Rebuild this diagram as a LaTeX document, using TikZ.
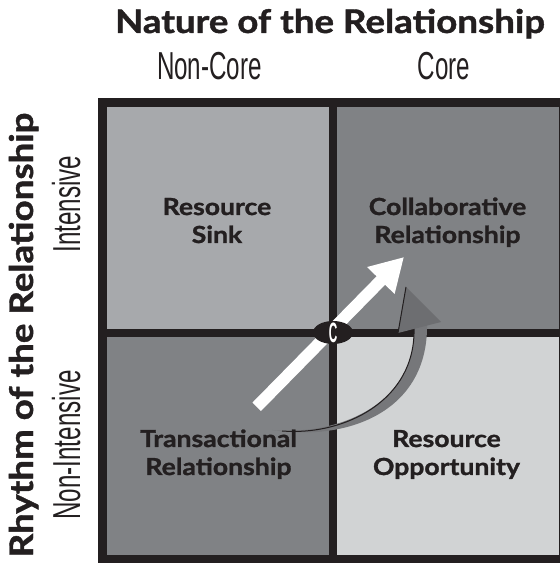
\documentclass[tikz,border=0pt]{standalone}
\usepackage{fontspec}
\setmainfont{Lato}
\newfontfamily\headfont[FakeStretch=1.13, BoldFeatures={FakeBold=1.3}]{Lato}
\newfontfamily\condfont[FakeStretch=0.62]{Liberation Sans}
\newfontfamily\cfont[FakeStretch=0.42]{Liberation Sans}
\usetikzlibrary{arrows.meta,shapes.geometric}
\definecolor{linecol}{HTML}{231F20}
\definecolor{sinkgray}{HTML}{A7A9AC}
\definecolor{collabgray}{HTML}{808285}
\definecolor{transgray}{HTML}{808285}
\definecolor{oppgray}{HTML}{D1D3D4}
\definecolor{bandgray}{HTML}{76777A}
\definecolor{headgray}{HTML}{6D6E71}

\begin{document}
\begin{tikzpicture}[x=1pt,y=1pt,
    gridline/.style={draw=linecol, line width=8.5pt},
    celltext/.style={font=\headfont\fontsize{23.5}{28}\selectfont\bfseries, align=center, text=linecol, inner sep=0pt, anchor=base},
    axistitle/.style={font=\headfont\fontsize{32.5}{36}\selectfont\bfseries, text=linecol, inner sep=0pt, anchor=base},
    axislabel/.style={font=\condfont\fontsize{39}{42}\selectfont, text=linecol, inner sep=0pt, anchor=base}]
    \useasboundingbox (0,0) rectangle (559,564);

    % Quadrants
    \foreach \xa/\ya/\h/\col in {102.5/231/230.5/sinkgray, 333/231/230.5/collabgray, 102.5/5/226/transgray, 333/5/226/oppgray}
        \fill[\col] (\xa,\ya) rectangle ++(230.5,\h);

    % Grid
    \draw[gridline] (102.5,5) rectangle (563.5,461.5);
    \draw[gridline] (333,5) -- (333,461.5);
    \draw[gridline] (102.5,231) -- (563.5,231);

    % Straight arrow
    \coordinate (arrtail) at (256.7,157.2);
    \coordinate (arrtip) at (404,307);
    \draw[white, line width=12pt, -{Triangle[length=33pt,width=36pt]}] (arrtail) -- (arrtip);

    % Curved arrow
    \fill[bandgray] (272,134) .. controls (350,122) and (428,154) .. (427,239)
        -- (414,236) .. controls (416,164) and (345,128) .. (272,134) -- cycle;
    \draw[linecol, line width=1pt] (414,236) .. controls (416,164) and (345,128) .. (282,133);
    \fill[headgray] (398,231) -- (406,277) -- (441,242) -- cycle;
    \draw[linecol, line width=1pt] (398,231) -- (406,277);

    % Axis titles
    \node[axistitle] (nature) at (330,531) {Nature of the Relationship};
    \node[axislabel] (noncore) at (209.5,484) {Non-Core};
    \node[axislabel] (core) at (444,484) {Core};
    \node[axistitle, rotate=90] (rhythm) at (33,229) {Rhythm of the Relationship};
    \node[axislabel, rotate=90] (intensive) at (80,360) {Intensive};
    \node[axislabel, rotate=90] (nonintensive) at (80,119) {Non-Intensive};

    % Quadrant labels
    \node[celltext] (sink) at (217,321) {Resource\\Sink};
    \node[celltext] (collab) at (447.5,321) {Collaborative\\Relationship};
    \node[celltext] (trans) at (218.5,89) {Transactional\\Relationship};
    \node[celltext] (opport) at (446.5,89) {Resource\\Opportunity};

    % Crossing point
    \node[ellipse, fill=linecol, minimum width=40pt, minimum height=23pt, inner sep=0pt] (cross) at (333,231.5) {};
    \node[font=\cfont\fontsize{28}{28}\selectfont\bfseries, text=white, inner sep=0pt] (cletter) at (cross) {C};
\end{tikzpicture}
\end{document}
